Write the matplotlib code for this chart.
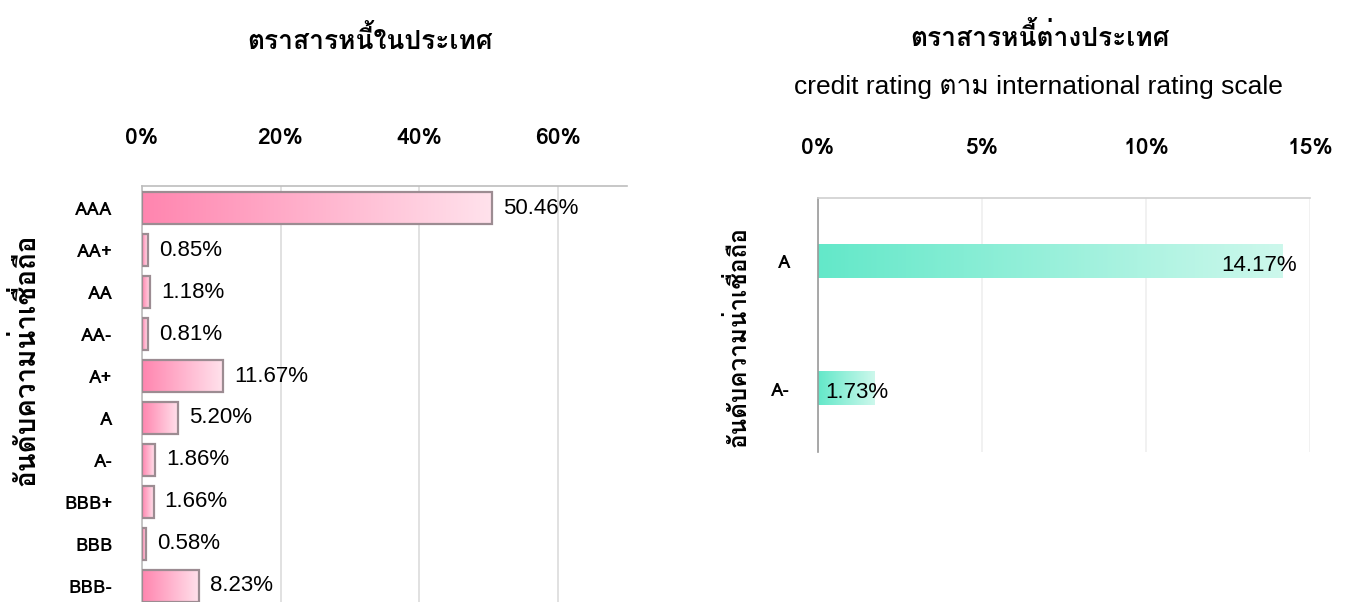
import matplotlib
matplotlib.use("Agg")
import matplotlib.pyplot as plt
import numpy as np
from matplotlib.colors import LinearSegmentedColormap
from matplotlib.patches import Rectangle

plt.rcParams["font.family"] = ["Loma", "DejaVu Sans"]
LATIN = ["Liberation Sans", "Loma", "DejaVu Sans"]

# Domestic bonds by credit rating (% of portfolio)
dom_ratings = ["AAA", "AA+", "AA", "AA-", "A+", "A", "A-", "BBB+", "BBB", "BBB-"]
dom_values = [50.46, 0.85, 1.18, 0.81, 11.67, 5.20, 1.86, 1.66, 0.58, 8.23]
dom_ticks = [0, 20, 40, 60]

# Foreign bonds by international credit rating (% of portfolio)
for_ratings = ["A", "A-"]
for_values = [14.17, 1.73]
for_ticks = [0, 5, 10, 15]

title_dom = "ตราสารหนี้ในประเทศ"
title_for = "ตราสารหนี้ต่างประเทศ"
subtitle_for = "credit rating ตาม international rating scale"
ylabel = "อันดับความน่าเชื่อถือ"

W, H = 1351, 602
fig = plt.figure(figsize=(W / 100, H / 100), dpi=100)


def rect(left, top, right, bottom):
    return [left / W, 1 - bottom / H, (right - left) / W, (bottom - top) / H]


def gradient_bars(ax, values, height, c0, c1, edge=None):
    cmap = LinearSegmentedColormap.from_list("g", [c0, c1])
    grad = np.linspace(0, 1, 256).reshape(1, -1)
    for i, v in enumerate(values):
        ax.imshow(grad, cmap=cmap, aspect="auto", interpolation="bilinear",
                  extent=[0, v, i + height / 2, i - height / 2], zorder=2)
        if edge is not None:
            ax.add_patch(Rectangle((0, i - height / 2), v, height, fill=False,
                                   edgecolor=edge, linewidth=1.6, zorder=3))


def style_axes(ax, ticks, spine_color, grid_color, xpad, ypad):
    ax.xaxis.tick_top()
    ax.set_xticks(ticks)
    ax.set_xticklabels([f"{t}%" for t in ticks], fontsize=16.5, fontweight="bold")
    ax.tick_params(axis="x", length=0, pad=xpad)
    ax.tick_params(axis="y", length=0, pad=ypad)
    for lab in ax.get_yticklabels():
        lab.set_fontweight("bold")
        lab.set_fontsize(13.5)
    ax.grid(axis="x", color=grid_color, linewidth=1.2, zorder=0)
    ax.set_axisbelow(True)
    for s in ("right", "bottom"):
        ax.spines[s].set_visible(False)
    ax.spines["top"].set_color(spine_color)
    ax.spines["left"].set_color(spine_color)
    ax.spines["top"].set_linewidth(1.2)
    ax.spines["left"].set_linewidth(1.2)


# ---- Left: domestic bonds ----
axL = fig.add_axes(rect(142, 186, 627, 608))
gradient_bars(axL, dom_values, 0.74, "#ff85af", "#ffe2ec", edge="#9c8c92")
axL.set_xlim(0, 70)
n = len(dom_ratings)
axL.set_ylim(n - 1 + 0.524, -0.524)
axL.set_yticks(range(n))
axL.set_yticklabels(dom_ratings)
style_axes(axL, dom_ticks, "#bdbdbd", "#dcdcdc", 27, 21)
for i, v in enumerate(dom_values):
    axL.annotate(f"{v:.2f}%", (v, i), xytext=(8, 0), textcoords="offset points",
                 ha="left", va="center", fontsize=16, family=LATIN)

# ---- Right: foreign bonds ----
axR = fig.add_axes(rect(818, 198, 1310, 452))
gradient_bars(axR, for_values, 0.26, "#63e8c9", "#cdf8ec")
axR.set_xlim(0, 15)
axR.set_ylim(len(for_ratings) - 0.5, -0.5)
axR.set_yticks(range(len(for_ratings)))
axR.set_yticklabels(for_ratings)
style_axes(axR, for_ticks, "#9a9a9a", "#efefef", 29, 20)
axR.spines["top"].set_color("#d0d0d0")
for i, v in enumerate(for_values):
    axR.annotate(f"{v:.2f}%", (v, i), xytext=(10, -3), textcoords="offset points",
                 ha="right", va="center", fontsize=16, family=LATIN)

# ---- Titles and axis labels ----
fig.text(370 / W, 1 - 40 / H, title_dom, ha="center", va="center",
         fontsize=19, fontweight="bold")
fig.text(1040 / W, 1 - 37 / H, title_for, ha="center", va="center",
         fontsize=19, fontweight="bold")
fig.text(1038 / W, 1 - 87 / H, subtitle_for, ha="center", va="center",
         fontsize=19, family=LATIN)
fig.text(25 / W, 1 - 360 / H, ylabel, ha="center", va="center", rotation=90,
         fontsize=20, fontweight="bold")
fig.text(738 / W, 1 - 337 / H, ylabel, ha="center", va="center", rotation=90,
         fontsize=17.5, fontweight="bold")

fig.savefig("out.png", dpi=100)
